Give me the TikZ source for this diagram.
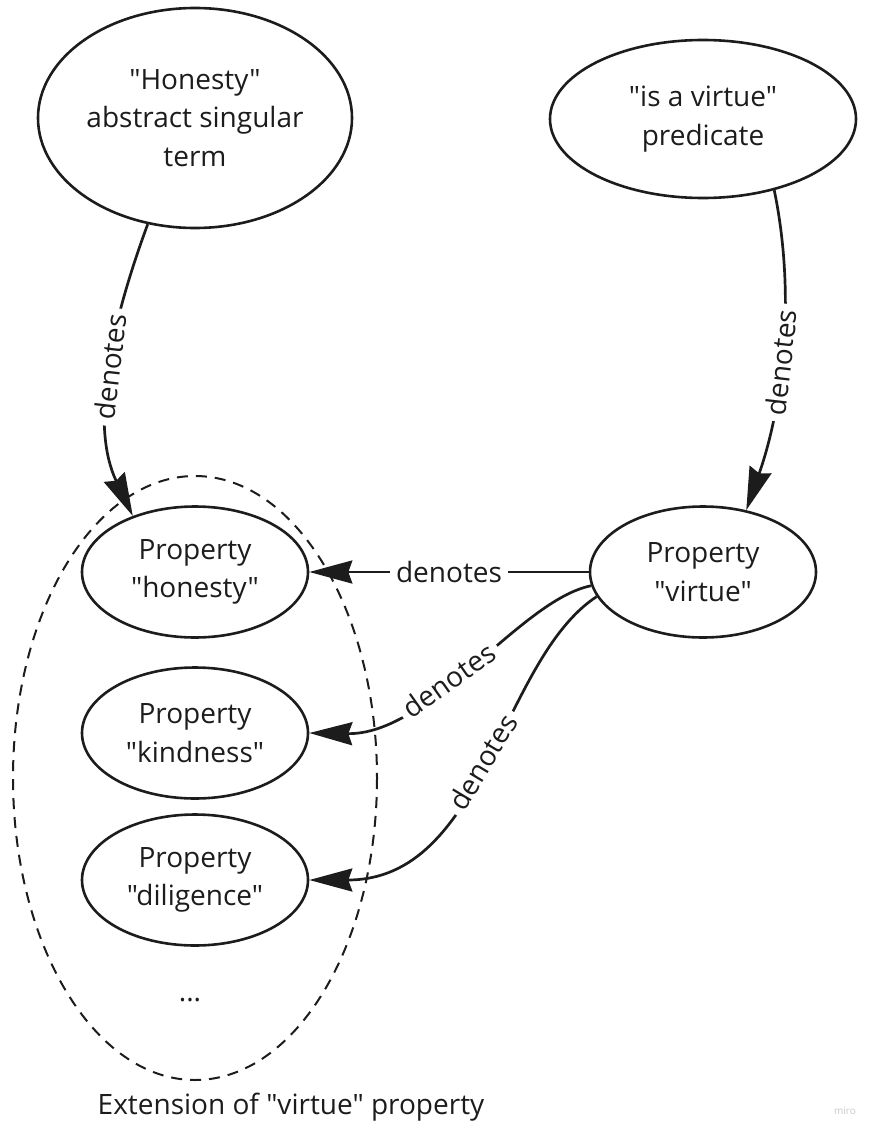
\documentclass[tikz,border=0pt]{standalone}
\usepackage{fontspec}
\setmainfont{Open Sans}[Ligatures=TeXOff]
\usetikzlibrary{arrows.meta,shapes.geometric}
\definecolor{ink}{HTML}{1C1C1C}
\definecolor{faint}{HTML}{C8C8C8}

\begin{document}
\begin{tikzpicture}[x=1pt,y=-1pt,
  font=\fontsize{28}{38.5}\selectfont,text=ink,
  prop/.style={draw=ink,ellipse,line width=2.6pt,minimum width=226pt,minimum height=131pt,inner sep=0pt,align=center},
  denotes/.style={draw=ink,-{Stealth[length=43pt,width=23pt,inset=4pt]},line width=2.7pt},
  lbl/.style={fill=white,sloped,inner xsep=6pt,inner ysep=1pt}]
\useasboundingbox (0,0) rectangle (879,1137);
% extension of the predicate
\draw[ink,line width=2pt,dash pattern=on 11pt off 8pt] (195,778) ellipse [x radius=182, y radius=302];
\node[prop,minimum width=314pt,minimum height=220pt] (term) at (195,118) {"Honesty"\\abstract singular\\term};
\node[prop,minimum width=306pt,minimum height=158pt] (pred) at (703,119) {"is a virtue"\\predicate};
\node[prop] (honesty) at (195,572) {Property\\"honesty"};
\node[prop] (kindness) at (195,733) {Property\\"kindness"};
\node[prop] (diligence) at (195,880) {Property\\"diligence"};
\node[prop] (virtue) at (703,572) {Property\\"virtue"};
\node (dots) at (190,1000) {...};
\node (ext) at (291,1107) {Extension of "virtue" property};
\node[text=faint,font=\fontsize{10}{12}\selectfont] (miro) at (845,1111) {miro};
% denotes arrows
\draw[denotes] (term.246) .. controls (105,340) and (92,430) .. node[lbl,pos=0.45] {denotes} (honesty.138);
\draw[denotes] (pred.-45) .. controls (795,290) and (785,400) .. node[lbl,pos=0.55] {denotes} (virtue.55);
\draw[denotes] (virtue.180) -- node[lbl] {denotes} (honesty.0);
\draw[denotes] (virtue.187) .. controls (520,600) and (430,735) .. node[lbl,pos=0.57] {denotes} (kindness.0);
\draw[denotes] (virtue.193) .. controls (500,660) and (485,880) .. node[lbl,pos=0.5] {denotes} (diligence.0);
\end{tikzpicture}
\end{document}
